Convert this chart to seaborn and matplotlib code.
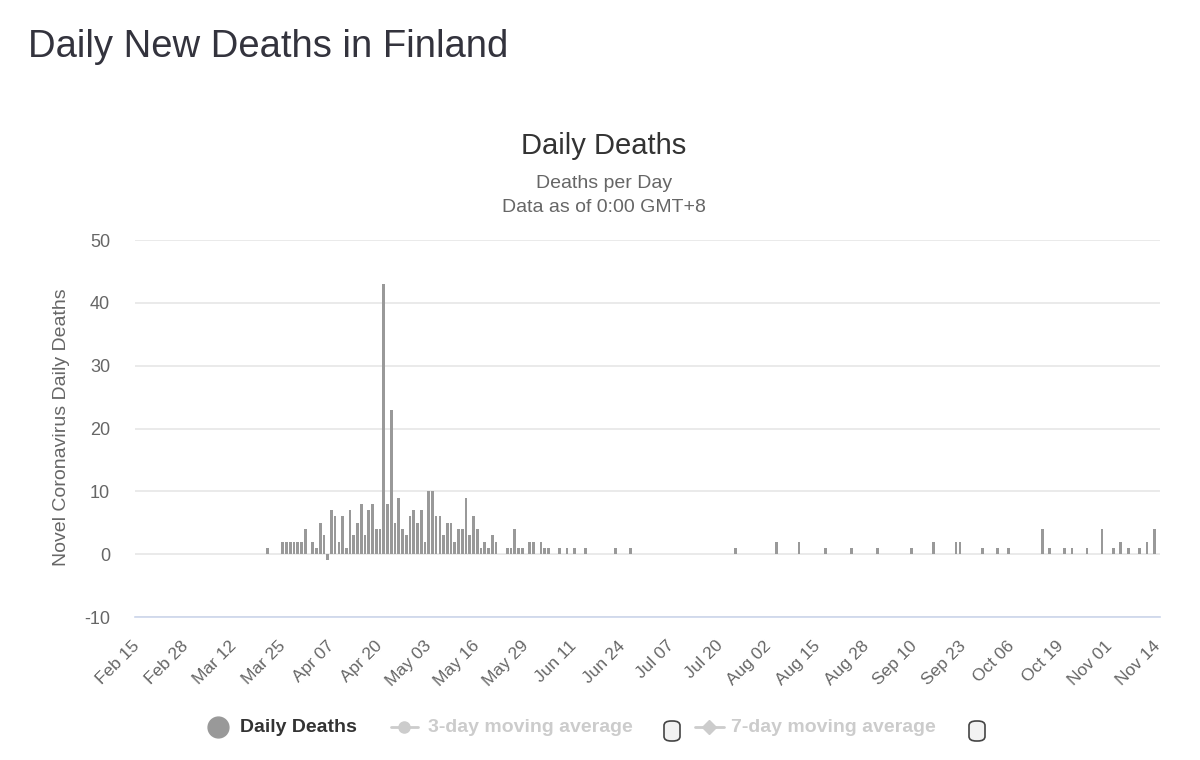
import pandas as pd
import matplotlib
matplotlib.use("Agg")
import matplotlib.pyplot as plt
import seaborn as sns
from matplotlib.lines import Line2D
from matplotlib.patches import FancyBboxPatch

sns.set_style("white")
plt.rcParams["font.family"] = ["Liberation Sans", "DejaVu Sans"]

# daily deaths in Finland, Feb 15 - Nov 14 2020
feb = [0, 0, 0, 0, 0, 0, 0, 0, 0, 0, 0, 0, 0, 0, 0]
mar = [0, 0, 0, 0, 0, 0, 0, 0, 0, 0,
       0, 0, 0, 0, 0, 0, 0, 0, 0, 0,
       1, 0, 0, 0, 2, 2, 2, 2, 2, 2, 4]
apr = [0, 2, 1, 5, 3, -1, 7, 6, 2, 6,
       1, 7, 3, 5, 8, 3, 7, 8, 4, 4,
       43, 8, 23, 5, 9, 4, 3, 6, 7, 5]
may = [7, 2, 10, 10, 6, 6, 3, 5, 5, 2,
       4, 4, 9, 3, 6, 4, 1, 2, 1, 3,
       2, 0, 0, 1, 1, 4, 1, 1, 0, 2, 2]
jun = [0, 2, 1, 1, 0, 0, 1, 0, 1, 0,
       1, 0, 0, 1, 0, 0, 0, 0, 0, 0,
       0, 1, 0, 0, 0, 1, 0, 0, 0, 0]
jul = [0, 0, 0, 0, 0, 0, 0, 0, 0, 0,
       0, 0, 0, 0, 0, 0, 0, 0, 0, 0,
       0, 0, 0, 1, 0, 0, 0, 0, 0, 0, 0]
aug = [0, 0, 0, 2, 0, 0, 0, 0, 0, 2,
       0, 0, 0, 0, 0, 0, 1, 0, 0, 0,
       0, 0, 0, 1, 0, 0, 0, 0, 0, 0, 1]
sep = [0, 0, 0, 0, 0, 0, 0, 0, 1, 0,
       0, 0, 0, 0, 2, 0, 0, 0, 0, 0,
       2, 2, 0, 0, 0, 0, 0, 1, 0, 0]
oct_ = [0, 1, 0, 0, 1, 0, 0, 0, 0, 0,
        0, 0, 0, 4, 0, 1, 0, 0, 0, 1,
        0, 1, 0, 0, 0, 1, 0, 0, 0, 4, 0]
nov = [0, 1, 0, 2, 0, 1, 0, 0, 1, 0, 2, 0, 4, 0]

tick_labels = ["Feb 15", "Feb 28", "Mar 12", "Mar 25", "Apr 07", "Apr 20",
               "May 03", "May 16", "May 29", "Jun 11", "Jun 24", "Jul 07",
               "Jul 20", "Aug 02", "Aug 15", "Aug 28", "Sep 10", "Sep 23",
               "Oct 06", "Oct 19", "Nov 01", "Nov 14"]
y_ticks = [-10, 0, 10, 20, 30, 40, 50]

days = pd.date_range("2020-02-15", "2020-11-14", freq="D")
deaths = feb + mar + apr + may + jun + jul + aug + sep + oct_ + nov
df = pd.DataFrame({"day": days.strftime("%Y-%m-%d"), "deaths": deaths})

W, H = 1200, 760
fig = plt.figure(figsize=(W / 100, H / 100), dpi=100)
ax = fig.add_axes([135 / W, 1 - 617 / H, 1025 / W, 377 / H])

sns.barplot(data=df, x="day", y="deaths", color="#999999", saturation=1,
            width=0.72, linewidth=0, errorbar=None, ax=ax)

ax.set_xlim(-0.5, len(df) - 0.5)
ax.set_ylim(-10, 50)
ax.set_xticks(range(0, len(df), 13))
ax.set_xticklabels(tick_labels, rotation=45, ha="right", va="center",
                   rotation_mode="anchor", color="#666666", fontsize=12.5)
ax.set_yticks(y_ticks)
ax.set_yticklabels([str(v) for v in y_ticks], color="#666666", fontsize=13)
ax.tick_params(axis="x", length=0, pad=19)
ax.tick_params(axis="y", length=0, pad=18)
ax.set_xlabel("")
ax.set_ylabel("")
ax.yaxis.grid(True, color="#e6e6e6", linewidth=1.2)
ax.set_axisbelow(True)
for side in ["top", "right", "left"]:
    ax.spines[side].set_visible(False)
ax.spines["bottom"].set_color("#ccd6eb")
ax.spines["bottom"].set_linewidth(1.2)


def fx(x):
    return x / W


def fy(y):
    return 1 - y / H


# titles
fig.text(fx(28), fy(47), "Daily New Deaths in Finland", fontsize=27.5,
         color="#33333d", ha="left", va="center")
fig.text(fx(604), fy(146), "Daily Deaths", fontsize=21, color="#333333",
         ha="center", va="center")
fig.text(fx(604), fy(183), "Deaths per Day", fontsize=14, color="#666666",
         ha="center", va="center")
fig.text(fx(604), fy(208), "Data as of 0:00 GMT+8", fontsize=14,
         color="#666666", ha="center", va="center")
fig.text(fx(62), fy(427), "Novel Coronavirus Daily Deaths", fontsize=14,
         color="#666666", rotation=90, ha="center", va="center")

# legend
ly = fy(727)
fig.add_artist(Line2D([fx(218)], [ly], marker="o", markersize=15,
                      color="#999999", linestyle="none",
                      transform=fig.transFigure))
fig.text(fx(240), ly, "Daily Deaths", fontsize=14, fontweight="bold",
         color="#333333", ha="left", va="center")

fig.add_artist(Line2D([fx(391), fx(418)], [ly, ly], color="#cccccc", lw=2,
                      transform=fig.transFigure))
fig.add_artist(Line2D([fx(404)], [ly], marker="o", markersize=8,
                      color="#cccccc", linestyle="none",
                      transform=fig.transFigure))
fig.text(fx(428), ly, "3-day moving average", fontsize=14, fontweight="bold",
         color="#cccccc", ha="left", va="center")

fig.add_artist(Line2D([fx(695), fx(724)], [ly, ly], color="#cccccc", lw=2,
                      transform=fig.transFigure))
fig.add_artist(Line2D([fx(709)], [ly], marker="D", markersize=7,
                      color="#cccccc", linestyle="none",
                      transform=fig.transFigure))
fig.text(fx(731), ly, "7-day moving average", fontsize=14, fontweight="bold",
         color="#cccccc", ha="left", va="center")

for cx in [672, 977]:
    box = FancyBboxPatch((fx(cx - 8), fy(741)), 16 / W, 20 / H,
                         boxstyle="round,pad=0,rounding_size=0.006",
                         facecolor="#f2f2f2", edgecolor="#444444",
                         linewidth=1.2, transform=fig.transFigure)
    fig.add_artist(box)

fig.savefig("out.png", dpi=100, facecolor="white")
